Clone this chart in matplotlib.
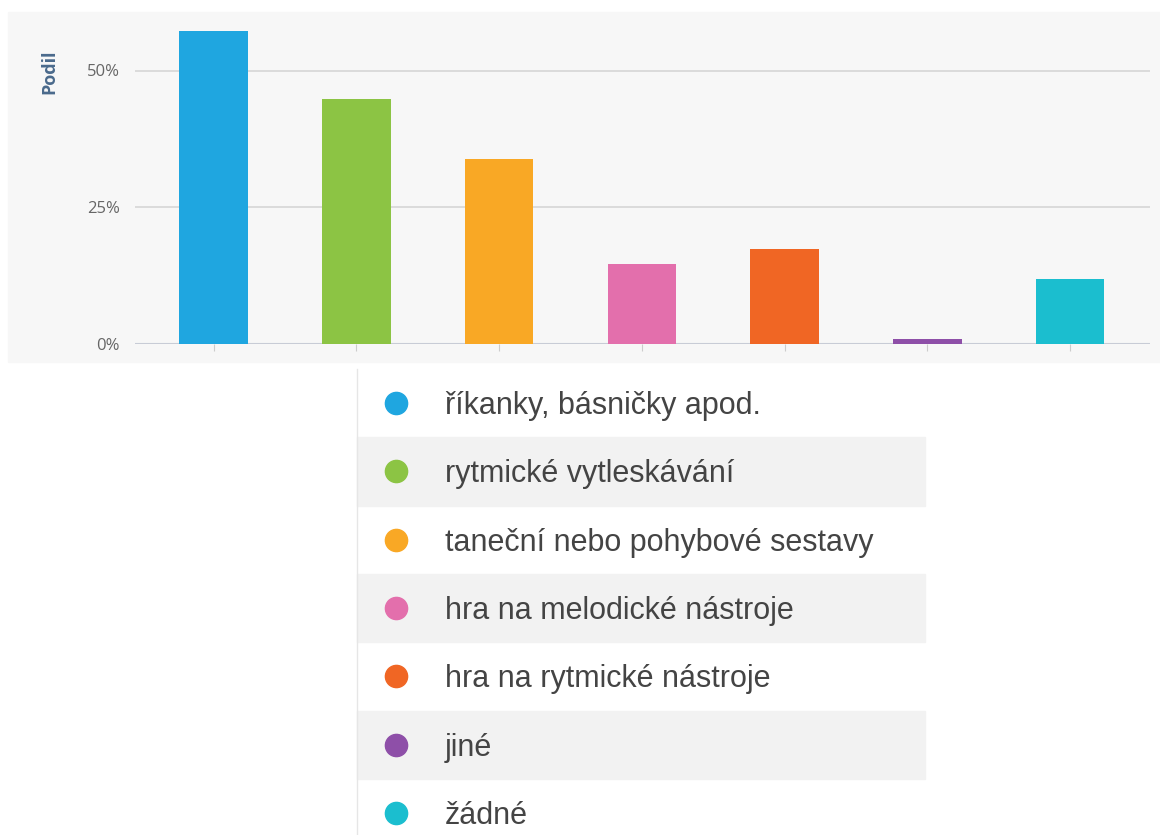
import matplotlib.pyplot as plt
from matplotlib.patches import Rectangle
from matplotlib.lines import Line2D

categories = ["říkanky, básničky apod.", "rytmické vytleskávání", "taneční nebo pohybové sestavy",
              "hra na melodické nástroje", "hra na rytmické nástroje", "jiné", "žádné"]
shares = [57.3, 44.8, 33.8, 14.6, 17.3, 0.8, 11.9]
colors = ["#1fa6e0", "#8cc444", "#f9a825", "#e36fac", "#f06624", "#8e4fa8", "#1bbecf"]
yticks = [0, 25, 50]
ytick_labels = ["0%", "25%", "50%"]

W, H = 1160, 835
fig = plt.figure(figsize=(W / 100, H / 100), dpi=100)

# grey chart background
fig.patches.append(Rectangle((8 / W, 1 - 362 / H), (W - 8) / W, 350 / H,
                             transform=fig.transFigure, color="#f7f7f7", zorder=-5))

ax = fig.add_axes([135 / W, 1 - 343.5 / H, 1015 / W, (343.5 - 15.9) / H])
ax.set_zorder(2)
ax.set_facecolor("none")
ax.bar(range(len(shares)), shares, width=0.48, color=colors, zorder=3)
ax.set_xlim(-0.55, 6.56)
ax.set_ylim(0, 60)
ax.set_yticks(yticks)
ax.set_yticklabels(ytick_labels, family="Open Sans")
ax.set_xticks(range(len(shares)))
ax.tick_params(axis="x", length=5, color="#cccccc", labelbottom=False, direction="out")
ax.tick_params(axis="y", length=0, pad=11, labelsize=12, labelcolor="#666666")
ax.yaxis.grid(True, color="#d6d6d6", lw=1.2)
ax.set_axisbelow(True)
ax.axhline(0, color="#c8ccd6", lw=1.5, zorder=2)
for s in ax.spines.values():
    s.set_visible(False)

fig.text(49.5 / W, 1 - 71.5 / H, "Podil", rotation=90, ha="center", va="center",
         fontsize=13, fontweight="bold", color="#4a6a8c", family="Open Sans")

# legend table
top, row_h = 369, 68.3
fig.add_artist(Line2D([357 / W, 357 / W], [1 - top / H, 0], color="#e6e6e6", lw=1,
                      transform=fig.transFigure))
for i, (cat, col) in enumerate(zip(categories, colors)):
    y0 = top + i * row_h
    yc = 1 - (y0 + row_h / 2) / H
    if i % 2 == 1:
        fig.patches.append(Rectangle((357 / W, 1 - (y0 + row_h) / H), (925 - 357) / W, row_h / H,
                                     transform=fig.transFigure, color="#f2f2f2", zorder=-5))
    fig.add_artist(Line2D([396 / W], [yc], marker="o", ms=16, color=col, lw=0,
                          transform=fig.transFigure))
    fig.text(445 / W, yc - 3 / H, cat, va="center", ha="left", fontsize=22, color="#444444",
             family="Liberation Sans")

fig.savefig("out.png", dpi=100)
